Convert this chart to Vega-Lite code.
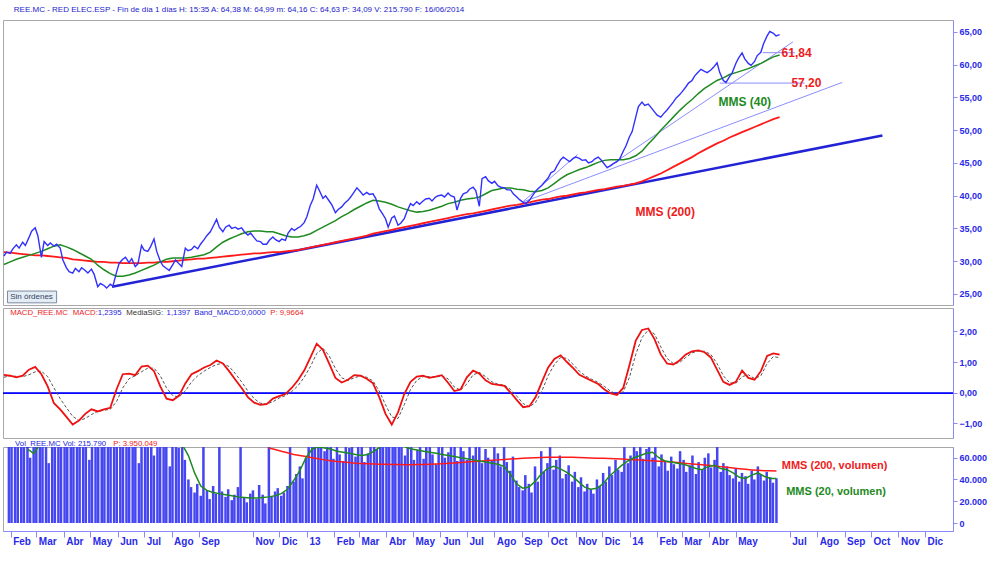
{
"$schema": "https://vega.github.io/schema/vega-lite/v6.json",
"background": "white",
"padding": {"left": -1, "top": 5, "right": 0, "bottom": 0},
"title": {"text": "REE.MC - RED ELEC.ESP - Fin de día 1 días  H: 15:35  A: 64,38  M: 64,99  m: 64,16  C: 64,63  P: 34,09  V: 215.790  F: 16/06/2014", "anchor": "start", "fontSize": 8, "font": "Liberation Sans", "fontWeight": "normal", "color": "#2222cc", "offset": 6, "dx": 14},
"spacing": 3,
"bounds": "flush",
"config": {
  "view": {"stroke": "#a8a8a8", "strokeWidth": 1},
  "axis": {"labelFont": "Liberation Sans", "labelFontWeight": "bold", "labelColor": "#2a2ae6", "domainColor": "#8a8aff", "tickColor": "#8a8aff", "grid": false},
  "text": {"font": "Liberation Sans"}
},
"datasets": {
"px": [
{"d":"2012-01-30","p":30.8,"v":90000},{"d":"2012-02-02","p":31.4,"v":72000},
{"d":"2012-02-06","p":31.2,"v":84000},{"d":"2012-02-09","p":31.9,"v":95000},
{"d":"2012-02-13","p":32.5,"v":70000},{"d":"2012-02-16","p":32.0,"v":88000},
{"d":"2012-02-20","p":32.9,"v":92000},{"d":"2012-02-23","p":32.4,"v":60000},
{"d":"2012-02-27","p":33.6,"v":85000},{"d":"2012-03-01","p":34.6,"v":78000},
{"d":"2012-03-05","p":35.1,"v":98000},{"d":"2012-03-08","p":33.9,"v":82000},
{"d":"2012-03-12","p":30.6,"v":76000},{"d":"2012-03-15","p":33.0,"v":55000},
{"d":"2012-03-19","p":32.4,"v":88000},{"d":"2012-03-22","p":32.8,"v":93000},
{"d":"2012-03-26","p":32.3,"v":80000},{"d":"2012-03-29","p":32.6,"v":71000},
{"d":"2012-04-02","p":32.0,"v":86000},{"d":"2012-04-05","p":30.2,"v":90000},
{"d":"2012-04-09","p":29.0,"v":95000},{"d":"2012-04-12","p":28.4,"v":77000},
{"d":"2012-04-16","p":28.2,"v":100000},{"d":"2012-04-19","p":28.9,"v":84000},
{"d":"2012-04-23","p":28.4,"v":79000},{"d":"2012-04-26","p":29.0,"v":92000},
{"d":"2012-04-30","p":28.6,"v":58000},{"d":"2012-05-03","p":28.2,"v":88000},
{"d":"2012-05-07","p":28.8,"v":91000},{"d":"2012-05-10","p":28.0,"v":83000},
{"d":"2012-05-14","p":26.1,"v":97000},{"d":"2012-05-17","p":26.6,"v":75000},
{"d":"2012-05-21","p":26.3,"v":88000},{"d":"2012-05-24","p":25.9,"v":94000},
{"d":"2012-05-28","p":26.5,"v":82000},{"d":"2012-05-31","p":26.2,"v":86000},
{"d":"2012-06-04","p":28.3,"v":90000},{"d":"2012-06-07","p":29.7,"v":71000},
{"d":"2012-06-11","p":30.3,"v":85000},{"d":"2012-06-14","p":30.6,"v":96000},
{"d":"2012-06-18","p":29.8,"v":78000},{"d":"2012-06-21","p":30.4,"v":88000},
{"d":"2012-06-25","p":29.2,"v":55000},{"d":"2012-06-28","p":29.6,"v":84000},
{"d":"2012-07-02","p":32.4,"v":92000},{"d":"2012-07-05","p":31.7,"v":87000},
{"d":"2012-07-09","p":31.5,"v":80000},{"d":"2012-07-12","p":32.2,"v":62000},
{"d":"2012-07-16","p":33.4,"v":89000},{"d":"2012-07-19","p":31.5,"v":83000},
{"d":"2012-07-23","p":30.0,"v":94000},{"d":"2012-07-26","p":29.3,"v":78000},
{"d":"2012-07-30","p":28.9,"v":52000},{"d":"2012-08-02","p":28.6,"v":86000},
{"d":"2012-08-06","p":29.5,"v":76000},{"d":"2012-08-09","p":30.2,"v":69000},
{"d":"2012-08-13","p":29.6,"v":82000},{"d":"2012-08-16","p":29.2,"v":58000},
{"d":"2012-08-20","p":32.0,"v":40000},{"d":"2012-08-23","p":31.6,"v":33000},
{"d":"2012-08-27","p":31.8,"v":28000},{"d":"2012-08-30","p":32.3,"v":36000},
{"d":"2012-09-03","p":31.9,"v":25000},{"d":"2012-09-06","p":32.6,"v":80000},
{"d":"2012-09-10","p":33.3,"v":30000},{"d":"2012-09-13","p":33.9,"v":22000},
{"d":"2012-09-17","p":34.5,"v":34000},{"d":"2012-09-20","p":35.3,"v":27000},
{"d":"2012-09-24","p":36.4,"v":72000},{"d":"2012-09-27","p":35.2,"v":29000},
{"d":"2012-10-01","p":34.5,"v":24000},{"d":"2012-10-04","p":35.2,"v":31000},
{"d":"2012-10-08","p":35.5,"v":21000},{"d":"2012-10-11","p":35.0,"v":26000},
{"d":"2012-10-15","p":35.2,"v":33000},{"d":"2012-10-18","p":34.9,"v":78000},
{"d":"2012-10-22","p":35.1,"v":23000},{"d":"2012-10-25","p":34.5,"v":19000},
{"d":"2012-10-29","p":34.0,"v":27000},{"d":"2012-11-01","p":34.3,"v":30000},
{"d":"2012-11-05","p":33.6,"v":22000},{"d":"2012-11-08","p":33.1,"v":35000},
{"d":"2012-11-12","p":33.0,"v":26000},{"d":"2012-11-15","p":32.6,"v":18000},
{"d":"2012-11-19","p":32.6,"v":76000},{"d":"2012-11-22","p":33.2,"v":24000},
{"d":"2012-11-26","p":33.7,"v":29000},{"d":"2012-11-29","p":33.3,"v":32000},
{"d":"2012-12-03","p":33.0,"v":25000},{"d":"2012-12-06","p":33.4,"v":28000},
{"d":"2012-12-10","p":33.2,"v":34000},{"d":"2012-12-13","p":34.3,"v":74000},
{"d":"2012-12-17","p":35.0,"v":38000},{"d":"2012-12-20","p":34.7,"v":45000},
{"d":"2012-12-24","p":35.1,"v":52000},{"d":"2012-12-27","p":35.3,"v":41000},
{"d":"2012-12-31","p":35.9,"v":60000},{"d":"2013-01-03","p":36.8,"v":85000},
{"d":"2013-01-07","p":38.6,"v":78000},{"d":"2013-01-10","p":39.5,"v":92000},
{"d":"2013-01-14","p":41.6,"v":95000},{"d":"2013-01-17","p":40.8,"v":70000},
{"d":"2013-01-21","p":39.6,"v":66000},{"d":"2013-01-24","p":40.0,"v":88000},
{"d":"2013-01-28","p":39.2,"v":74000},{"d":"2013-01-31","p":38.6,"v":59000},
{"d":"2013-02-04","p":37.4,"v":82000},{"d":"2013-02-07","p":37.9,"v":63000},
{"d":"2013-02-11","p":38.3,"v":57000},{"d":"2013-02-14","p":38.8,"v":76000},
{"d":"2013-02-18","p":39.3,"v":69000},{"d":"2013-02-21","p":39.8,"v":80000},
{"d":"2013-02-25","p":40.6,"v":61000},{"d":"2013-02-28","p":41.2,"v":72000},
{"d":"2013-03-04","p":40.6,"v":85000},{"d":"2013-03-07","p":40.1,"v":56000},
{"d":"2013-03-11","p":40.5,"v":64000},{"d":"2013-03-14","p":40.2,"v":78000},
{"d":"2013-03-18","p":40.3,"v":90000},{"d":"2013-03-21","p":39.6,"v":68000},
{"d":"2013-03-25","p":38.0,"v":75000},{"d":"2013-03-28","p":37.4,"v":86000},
{"d":"2013-04-01","p":36.5,"v":93000},{"d":"2013-04-04","p":35.2,"v":79000},
{"d":"2013-04-08","p":36.6,"v":88000},{"d":"2013-04-11","p":36.9,"v":97000},
{"d":"2013-04-15","p":35.5,"v":70000},{"d":"2013-04-18","p":35.8,"v":84000},
{"d":"2013-04-22","p":36.5,"v":62000},{"d":"2013-04-25","p":37.6,"v":77000},
{"d":"2013-04-29","p":38.8,"v":81000},{"d":"2013-05-02","p":38.5,"v":58000},
{"d":"2013-05-06","p":39.1,"v":67000},{"d":"2013-05-09","p":38.7,"v":73000},
{"d":"2013-05-13","p":39.2,"v":59000},{"d":"2013-05-16","p":39.5,"v":80000},
{"d":"2013-05-20","p":39.6,"v":76000},{"d":"2013-05-23","p":39.2,"v":63000},
{"d":"2013-05-27","p":39.8,"v":54000},{"d":"2013-05-30","p":40.0,"v":71000},
{"d":"2013-06-03","p":40.1,"v":86000},{"d":"2013-06-06","p":39.8,"v":60000},
{"d":"2013-06-10","p":40.4,"v":65000},{"d":"2013-06-13","p":40.0,"v":78000},
{"d":"2013-06-17","p":39.8,"v":92000},{"d":"2013-06-20","p":37.8,"v":57000},
{"d":"2013-06-24","p":39.6,"v":70000},{"d":"2013-06-27","p":40.3,"v":66000},
{"d":"2013-07-01","p":40.5,"v":58000},{"d":"2013-07-04","p":41.0,"v":79000},
{"d":"2013-07-08","p":41.3,"v":62000},{"d":"2013-07-11","p":40.8,"v":74000},
{"d":"2013-07-15","p":38.4,"v":83000},{"d":"2013-07-18","p":42.6,"v":55000},
{"d":"2013-07-22","p":42.9,"v":68000},{"d":"2013-07-25","p":42.3,"v":60000},
{"d":"2013-07-29","p":41.9,"v":57000},{"d":"2013-08-01","p":42.2,"v":72000},
{"d":"2013-08-05","p":41.5,"v":64000},{"d":"2013-08-08","p":41.3,"v":52000},
{"d":"2013-08-12","p":41.2,"v":78000},{"d":"2013-08-15","p":40.9,"v":56000},
{"d":"2013-08-19","p":40.9,"v":48000},{"d":"2013-08-22","p":40.3,"v":61000},
{"d":"2013-08-26","p":39.8,"v":39000},{"d":"2013-08-29","p":39.4,"v":33000},
{"d":"2013-09-02","p":39.0,"v":30000},{"d":"2013-09-05","p":38.8,"v":44000},
{"d":"2013-09-09","p":39.3,"v":36000},{"d":"2013-09-12","p":39.9,"v":28000},
{"d":"2013-09-16","p":40.7,"v":52000},{"d":"2013-09-19","p":41.1,"v":38000},
{"d":"2013-09-23","p":41.6,"v":66000},{"d":"2013-09-26","p":42.1,"v":47000},
{"d":"2013-09-30","p":42.7,"v":55000},{"d":"2013-10-03","p":43.5,"v":72000},
{"d":"2013-10-07","p":43.8,"v":49000},{"d":"2013-10-10","p":44.6,"v":58000},
{"d":"2013-10-14","p":45.5,"v":62000},{"d":"2013-10-17","p":45.9,"v":41000},
{"d":"2013-10-21","p":45.5,"v":45000},{"d":"2013-10-24","p":45.2,"v":53000},
{"d":"2013-10-28","p":45.7,"v":38000},{"d":"2013-10-31","p":45.9,"v":47000},
{"d":"2013-11-04","p":45.7,"v":33000},{"d":"2013-11-07","p":45.4,"v":42000},
{"d":"2013-11-11","p":45.5,"v":29000},{"d":"2013-11-14","p":45.0,"v":36000},
{"d":"2013-11-18","p":45.2,"v":31000},{"d":"2013-11-21","p":45.6,"v":27000},
{"d":"2013-11-25","p":45.9,"v":40000},{"d":"2013-11-28","p":45.5,"v":34000},
{"d":"2013-12-02","p":44.8,"v":46000},{"d":"2013-12-05","p":44.3,"v":38000},
{"d":"2013-12-09","p":44.6,"v":52000},{"d":"2013-12-12","p":44.9,"v":44000},
{"d":"2013-12-16","p":45.2,"v":58000},{"d":"2013-12-19","p":45.6,"v":49000},
{"d":"2013-12-23","p":46.8,"v":47000},{"d":"2013-12-26","p":47.6,"v":71000},
{"d":"2013-12-30","p":49.0,"v":55000},{"d":"2014-01-02","p":49.8,"v":62000},
{"d":"2014-01-06","p":52.0,"v":80000},{"d":"2014-01-09","p":53.6,"v":66000},
{"d":"2014-01-13","p":54.3,"v":74000},{"d":"2014-01-16","p":53.8,"v":59000},
{"d":"2014-01-20","p":54.0,"v":68000},{"d":"2014-01-23","p":53.5,"v":77000},
{"d":"2014-01-27","p":52.8,"v":60000},{"d":"2014-01-30","p":52.3,"v":72000},
{"d":"2014-02-03","p":52.0,"v":52000},{"d":"2014-02-06","p":52.5,"v":63000},
{"d":"2014-02-10","p":53.1,"v":57000},{"d":"2014-02-13","p":53.6,"v":48000},
{"d":"2014-02-17","p":54.3,"v":61000},{"d":"2014-02-20","p":54.9,"v":54000},
{"d":"2014-02-24","p":55.4,"v":50000},{"d":"2014-02-27","p":55.9,"v":66000},
{"d":"2014-03-03","p":56.6,"v":58000},{"d":"2014-03-06","p":57.2,"v":47000},
{"d":"2014-03-10","p":57.6,"v":53000},{"d":"2014-03-13","p":58.3,"v":62000},
{"d":"2014-03-17","p":58.9,"v":45000},{"d":"2014-03-20","p":59.3,"v":56000},
{"d":"2014-03-24","p":59.0,"v":49000},{"d":"2014-03-27","p":58.8,"v":60000},
{"d":"2014-03-31","p":59.2,"v":64000},{"d":"2014-04-03","p":59.6,"v":51000},
{"d":"2014-04-07","p":60.3,"v":58000},{"d":"2014-04-10","p":58.8,"v":70000},
{"d":"2014-04-14","p":57.6,"v":47000},{"d":"2014-04-17","p":57.3,"v":55000},
{"d":"2014-04-21","p":58.2,"v":52000},{"d":"2014-04-24","p":58.8,"v":44000},
{"d":"2014-04-28","p":60.2,"v":41000},{"d":"2014-05-01","p":61.0,"v":50000},
{"d":"2014-05-05","p":61.8,"v":38000},{"d":"2014-05-08","p":60.9,"v":46000},
{"d":"2014-05-12","p":60.2,"v":43000},{"d":"2014-05-15","p":59.9,"v":36000},
{"d":"2014-05-19","p":60.5,"v":48000},{"d":"2014-05-22","p":61.4,"v":40000},
{"d":"2014-05-26","p":61.9,"v":52000},{"d":"2014-05-29","p":63.2,"v":45000},
{"d":"2014-06-02","p":64.4,"v":39000},{"d":"2014-06-05","p":65.1,"v":47000},
{"d":"2014-06-09","p":64.8,"v":42000},{"d":"2014-06-12","p":64.4,"v":37000},
{"d":"2014-06-16","p":64.6,"v":41000}
],
"wk": [
{"d":"2012-01-30","m":0.58,"s":0.50,"g":29.5,"r":31.4},
{"d":"2012-02-06","m":0.55,"s":0.55,"g":29.9,"r":31.3},
{"d":"2012-02-13","m":0.50,"s":0.53,"g":30.3,"r":31.2},
{"d":"2012-02-20","m":0.55,"s":0.52,"g":30.6,"r":31.1,"vg":68000},
{"d":"2012-02-27","m":0.75,"s":0.58,"g":30.9,"r":31.0,"vg":64000},
{"d":"2012-03-05","m":0.84,"s":0.68,"g":31.2,"r":30.9,"vg":72000},
{"d":"2012-03-12","m":0.60,"s":0.70,"g":31.5,"r":30.9,"vg":80000},
{"d":"2012-03-19","m":0.20,"s":0.52,"g":31.9,"r":30.8,"vg":84000},
{"d":"2012-03-26","m":-0.35,"s":0.15,"g":32.3,"r":30.7,"vg":88000},
{"d":"2012-04-02","m":-0.55,"s":-0.20,"g":32.5,"r":30.6,"vg":86000},
{"d":"2012-04-09","m":-0.80,"s":-0.50,"g":32.2,"r":30.5,"vg":90000},
{"d":"2012-04-16","m":-1.05,"s":-0.78,"g":31.8,"r":30.3,"vg":92000},
{"d":"2012-04-23","m":-0.92,"s":-0.92,"g":31.3,"r":30.2,"vg":89000},
{"d":"2012-04-30","m":-0.70,"s":-0.85,"g":30.8,"r":30.1,"vg":86000},
{"d":"2012-05-07","m":-0.55,"s":-0.72,"g":30.3,"r":30.0,"vg":88000},
{"d":"2012-05-14","m":-0.62,"s":-0.62,"g":29.4,"r":29.9,"vg":90000},
{"d":"2012-05-21","m":-0.55,"s":-0.58,"g":28.7,"r":29.9,"vg":91000},
{"d":"2012-05-28","m":-0.50,"s":-0.55,"g":28.1,"r":29.8,"vg":89000},
{"d":"2012-06-04","m":0.10,"s":-0.30,"g":27.7,"r":29.8,"vg":87000},
{"d":"2012-06-11","m":0.60,"s":0.15,"g":27.7,"r":29.7,"vg":86000},
{"d":"2012-06-18","m":0.62,"s":0.45,"g":27.9,"r":29.7,"vg":85000},
{"d":"2012-06-25","m":0.57,"s":0.55,"g":28.2,"r":29.7,"vg":83000},
{"d":"2012-07-02","m":0.85,"s":0.68,"g":28.6,"r":29.7,"vg":85000},
{"d":"2012-07-09","m":0.88,"s":0.80,"g":29.0,"r":29.8,"vg":86000},
{"d":"2012-07-16","m":0.70,"s":0.80,"g":29.4,"r":29.8,"vg":84000},
{"d":"2012-07-23","m":0.20,"s":0.55,"g":29.9,"r":29.9,"vg":85000},
{"d":"2012-07-30","m":-0.20,"s":0.15,"g":30.3,"r":29.9,"vg":83000},
{"d":"2012-08-06","m":-0.25,"s":-0.10,"g":30.5,"r":30.0,"vg":80000},
{"d":"2012-08-13","m":-0.10,"s":-0.15,"g":30.5,"r":30.1,"vg":72000},
{"d":"2012-08-20","m":0.30,"s":0.05,"g":30.5,"r":30.2,"vg":62000},
{"d":"2012-08-27","m":0.60,"s":0.35,"g":30.6,"r":30.3,"vg":46000},
{"d":"2012-09-03","m":0.70,"s":0.55,"g":30.8,"r":30.4,"vg":34000},
{"d":"2012-09-10","m":0.82,"s":0.70,"g":31.0,"r":30.4,"vg":30000},
{"d":"2012-09-17","m":0.90,"s":0.82,"g":31.4,"r":30.5,"vg":28000},
{"d":"2012-09-24","m":1.05,"s":0.92,"g":32.2,"r":30.6,"vg":27000},
{"d":"2012-10-01","m":0.95,"s":0.95,"g":32.9,"r":30.7,"vg":26000},
{"d":"2012-10-08","m":0.70,"s":0.85,"g":33.4,"r":30.8,"vg":25000},
{"d":"2012-10-15","m":0.42,"s":0.62,"g":33.8,"r":30.9,"vg":24000},
{"d":"2012-10-22","m":0.15,"s":0.35,"g":34.2,"r":31.0,"vg":23500},
{"d":"2012-10-29","m":-0.15,"s":0.05,"g":34.5,"r":31.1,"vg":23000},
{"d":"2012-11-05","m":-0.33,"s":-0.20,"g":34.6,"r":31.2,"vg":23000},
{"d":"2012-11-12","m":-0.40,"s":-0.35,"g":34.6,"r":31.2,"vg":23500},
{"d":"2012-11-19","m":-0.38,"s":-0.38,"g":34.5,"r":31.3,"vg":24000,"vr":69000},
{"d":"2012-11-26","m":-0.20,"s":-0.30,"g":34.5,"r":31.4,"vg":25000,"vr":67500},
{"d":"2012-12-03","m":-0.12,"s":-0.18,"g":34.2,"r":31.4,"vg":27000,"vr":66000},
{"d":"2012-12-10","m":-0.05,"s":-0.10,"g":33.9,"r":31.5,"vg":31000,"vr":64500},
{"d":"2012-12-17","m":0.15,"s":0.03,"g":33.7,"r":31.6,"vg":39000,"vr":63000},
{"d":"2012-12-24","m":0.40,"s":0.22,"g":33.7,"r":31.7,"vg":48000,"vr":62000},
{"d":"2012-12-31","m":0.72,"s":0.50,"g":33.9,"r":31.9,"vg":60000,"vr":61000},
{"d":"2013-01-07","m":1.15,"s":0.85,"g":34.2,"r":32.1,"vg":68000,"vr":60000},
{"d":"2013-01-14","m":1.60,"s":1.28,"g":34.7,"r":32.3,"vg":70000,"vr":59000},
{"d":"2013-01-21","m":1.40,"s":1.45,"g":35.2,"r":32.5,"vg":69000,"vr":58000},
{"d":"2013-01-28","m":0.95,"s":1.20,"g":35.7,"r":32.7,"vg":68000,"vr":57200},
{"d":"2013-02-04","m":0.48,"s":0.78,"g":36.2,"r":32.9,"vg":66000,"vr":56500},
{"d":"2013-02-11","m":0.33,"s":0.48,"g":36.8,"r":33.1,"vg":65000,"vr":56000},
{"d":"2013-02-18","m":0.42,"s":0.40,"g":37.3,"r":33.3,"vg":64000,"vr":55500},
{"d":"2013-02-25","m":0.57,"s":0.48,"g":37.9,"r":33.5,"vg":63000,"vr":55000},
{"d":"2013-03-04","m":0.55,"s":0.55,"g":38.4,"r":33.7,"vg":62000,"vr":54700},
{"d":"2013-03-11","m":0.45,"s":0.50,"g":38.9,"r":33.9,"vg":63000,"vr":54400},
{"d":"2013-03-18","m":0.30,"s":0.38,"g":39.3,"r":34.2,"vg":66000,"vr":54200},
{"d":"2013-03-25","m":-0.15,"s":0.05,"g":39.2,"r":34.4,"vg":70000,"vr":54000},
{"d":"2013-04-01","m":-0.70,"s":-0.40,"g":39.0,"r":34.6,"vg":74000,"vr":54000},
{"d":"2013-04-08","m":-1.05,"s":-0.80,"g":38.7,"r":34.8,"vg":73000,"vr":53800},
{"d":"2013-04-15","m":-0.65,"s":-0.85,"g":38.3,"r":35.0,"vg":72000,"vr":53700},
{"d":"2013-04-22","m":-0.05,"s":-0.40,"g":38.0,"r":35.2,"vg":70000,"vr":53600},
{"d":"2013-04-29","m":0.35,"s":0.10,"g":37.7,"r":35.4,"vg":68000,"vr":53600},
{"d":"2013-05-06","m":0.52,"s":0.40,"g":37.5,"r":35.6,"vg":67000,"vr":53700},
{"d":"2013-05-13","m":0.55,"s":0.52,"g":37.6,"r":35.8,"vg":66000,"vr":53800},
{"d":"2013-05-20","m":0.48,"s":0.52,"g":37.8,"r":36.0,"vg":65000,"vr":54000},
{"d":"2013-05-27","m":0.52,"s":0.50,"g":38.1,"r":36.2,"vg":64000,"vr":54200},
{"d":"2013-06-03","m":0.57,"s":0.55,"g":38.4,"r":36.4,"vg":63000,"vr":54500},
{"d":"2013-06-10","m":0.32,"s":0.45,"g":38.8,"r":36.6,"vg":62000,"vr":54800},
{"d":"2013-06-17","m":0.05,"s":0.18,"g":39.0,"r":36.8,"vg":61000,"vr":55200},
{"d":"2013-06-24","m":0.10,"s":0.08,"g":39.3,"r":37.0,"vg":60000,"vr":55600},
{"d":"2013-07-01","m":0.50,"s":0.28,"g":39.5,"r":37.2,"vg":59000,"vr":56000},
{"d":"2013-07-08","m":0.72,"s":0.58,"g":39.6,"r":37.3,"vg":58000,"vr":56400},
{"d":"2013-07-15","m":0.62,"s":0.66,"g":39.8,"r":37.5,"vg":57000,"vr":56800},
{"d":"2013-07-22","m":0.40,"s":0.52,"g":40.3,"r":37.7,"vg":56000,"vr":57200},
{"d":"2013-07-29","m":0.28,"s":0.35,"g":40.8,"r":37.9,"vg":55000,"vr":57600},
{"d":"2013-08-05","m":0.25,"s":0.27,"g":41.0,"r":38.1,"vg":54000,"vr":58000},
{"d":"2013-08-12","m":0.22,"s":0.24,"g":41.2,"r":38.3,"vg":52000,"vr":58400},
{"d":"2013-08-19","m":0.00,"s":0.10,"g":41.2,"r":38.5,"vg":45000,"vr":58800},
{"d":"2013-08-26","m":-0.25,"s":-0.12,"g":41.0,"r":38.6,"vg":36000,"vr":59100},
{"d":"2013-09-02","m":-0.48,"s":-0.36,"g":40.9,"r":38.8,"vg":32000,"vr":59400},
{"d":"2013-09-09","m":-0.45,"s":-0.47,"g":40.7,"r":39.0,"vg":33000,"vr":59700},
{"d":"2013-09-16","m":-0.15,"s":-0.32,"g":40.6,"r":39.2,"vg":38000,"vr":60000},
{"d":"2013-09-23","m":0.35,"s":0.05,"g":40.8,"r":39.4,"vg":45000,"vr":60200},
{"d":"2013-09-30","m":0.82,"s":0.55,"g":41.2,"r":39.5,"vg":50000,"vr":60400},
{"d":"2013-10-07","m":1.10,"s":0.92,"g":41.9,"r":39.7,"vg":52000,"vr":60500},
{"d":"2013-10-14","m":1.22,"s":1.15,"g":42.6,"r":39.9,"vg":50000,"vr":60500},
{"d":"2013-10-21","m":1.00,"s":1.12,"g":43.2,"r":40.0,"vg":47000,"vr":60400},
{"d":"2013-10-28","m":0.80,"s":0.92,"g":43.6,"r":40.2,"vg":43000,"vr":60300},
{"d":"2013-11-04","m":0.58,"s":0.70,"g":44.0,"r":40.4,"vg":38000,"vr":60100},
{"d":"2013-11-11","m":0.48,"s":0.54,"g":44.3,"r":40.5,"vg":33000,"vr":60000},
{"d":"2013-11-18","m":0.38,"s":0.43,"g":44.7,"r":40.7,"vg":31000,"vr":59800},
{"d":"2013-11-25","m":0.28,"s":0.33,"g":45.1,"r":40.9,"vg":32000,"vr":59600},
{"d":"2013-12-02","m":0.10,"s":0.20,"g":45.4,"r":41.0,"vg":36000,"vr":59400},
{"d":"2013-12-09","m":-0.03,"s":0.04,"g":45.5,"r":41.2,"vg":43000,"vr":59200},
{"d":"2013-12-16","m":-0.08,"s":-0.05,"g":45.5,"r":41.4,"vg":48000,"vr":59000},
{"d":"2013-12-23","m":0.15,"s":0.02,"g":45.5,"r":41.5,"vg":53000,"vr":58700},
{"d":"2013-12-30","m":0.90,"s":0.50,"g":45.7,"r":41.7,"vg":57000,"vr":58400},
{"d":"2014-01-06","m":1.70,"s":1.25,"g":46.1,"r":41.9,"vg":60000,"vr":58100},
{"d":"2014-01-13","m":2.05,"s":1.80,"g":46.8,"r":42.2,"vg":62000,"vr":57800},
{"d":"2014-01-20","m":2.10,"s":2.05,"g":47.9,"r":42.6,"vg":64000,"vr":57500},
{"d":"2014-01-27","m":1.75,"s":1.92,"g":48.9,"r":43.0,"vg":65000,"vr":57200},
{"d":"2014-02-03","m":1.25,"s":1.50,"g":50.0,"r":43.4,"vg":60000,"vr":56800},
{"d":"2014-02-10","m":0.95,"s":1.12,"g":51.0,"r":43.9,"vg":57000,"vr":56400},
{"d":"2014-02-17","m":0.92,"s":0.95,"g":52.0,"r":44.4,"vg":56000,"vr":56000},
{"d":"2014-02-24","m":1.05,"s":0.98,"g":53.0,"r":44.9,"vg":55000,"vr":55500},
{"d":"2014-03-03","m":1.25,"s":1.15,"g":53.9,"r":45.4,"vg":54000,"vr":55000},
{"d":"2014-03-10","m":1.35,"s":1.30,"g":54.7,"r":45.9,"vg":52000,"vr":54500},
{"d":"2014-03-17","m":1.38,"s":1.36,"g":55.6,"r":46.5,"vg":50000,"vr":54000},
{"d":"2014-03-24","m":1.32,"s":1.35,"g":56.4,"r":47.0,"vg":49000,"vr":53500},
{"d":"2014-03-31","m":1.15,"s":1.25,"g":57.0,"r":47.5,"vg":52000,"vr":53000},
{"d":"2014-04-07","m":0.75,"s":0.95,"g":57.6,"r":48.0,"vg":53000,"vr":52400},
{"d":"2014-04-14","m":0.35,"s":0.55,"g":58.0,"r":48.4,"vg":50000,"vr":51800},
{"d":"2014-04-21","m":0.25,"s":0.32,"g":58.5,"r":48.9,"vg":49000,"vr":51200},
{"d":"2014-04-28","m":0.35,"s":0.30,"g":58.8,"r":49.3,"vg":46000,"vr":50500},
{"d":"2014-05-05","m":0.72,"s":0.52,"g":59.1,"r":49.7,"vg":42000,"vr":49900},
{"d":"2014-05-12","m":0.48,"s":0.58,"g":59.4,"r":50.1,"vg":41000,"vr":49300},
{"d":"2014-05-19","m":0.42,"s":0.46,"g":59.8,"r":50.5,"vg":44000,"vr":48800},
{"d":"2014-05-26","m":0.70,"s":0.55,"g":60.2,"r":50.9,"vg":46000,"vr":48400},
{"d":"2014-06-02","m":1.20,"s":0.95,"g":60.7,"r":51.3,"vg":43000,"vr":48100},
{"d":"2014-06-09","m":1.28,"s":1.18,"g":61.2,"r":51.7,"vg":41000,"vr":47900},
{"d":"2014-06-16","m":1.24,"s":1.14,"g":61.5,"r":52.0,"vg":41000,"vr":47800}
],
"tm": [{"d":"2012-05-30","d2":"2014-10-09","p":26.1,"p2":49.2}],
"tl": [
{"d":"2013-09-01","d2":"2014-08-25","p":39.0,"p2":57.3},
{"d":"2013-09-01","d2":"2013-11-02","p":39.0,"p2":46.3},
{"d":"2013-12-04","d2":"2014-07-01","p":44.2,"p2":63.5}
],
"hl": [
{"d":"2014-05-28","d2":"2014-07-03","p":61.84},
{"d":"2014-04-10","d2":"2014-07-14","p":57.2}
],
"lab": [
{"d":"2014-07-05","p":61.84,"t":"61,84","c":"r","a":"left"},
{"d":"2014-07-16","p":57.2,"t":"57,20","c":"r","a":"left"},
{"d":"2014-05-08","p":54.3,"t":"MMS (40)","c":"g","a":"center"},
{"d":"2014-02-08","p":37.5,"t":"MMS (200)","c":"r","a":"center"}
],
"hdr": [
{"d":"2012-02-06","m":2.61,"t":"MACD_REE.MC","c":"r"},
{"d":"2012-04-16","m":2.61,"t":"MACD:","c":"r"},
{"d":"2012-05-14","m":2.61,"t":"1,2395","c":"b"},
{"d":"2012-06-15","m":2.61,"t":"MediaSIG:","c":"k"},
{"d":"2012-07-30","m":2.61,"t":"1,1397","c":"b"},
{"d":"2012-08-30","m":2.61,"t":"Band_MACD:","c":"b"},
{"d":"2012-10-22","m":2.61,"t":"0,0000","c":"b"},
{"d":"2012-11-23","m":2.61,"t":"P: 9,9664","c":"r"}
],
"vhdr": [
{"d":"2012-02-06","v":72600,"t":"Vol_REE.MC  Vol: 215.790","c":"b"},
{"d":"2012-05-27","v":72600,"t":"P: 3.950.049","c":"r"}
],
"vlab": [
{"d":"2014-06-22","v":52400,"t":"MMS (200, volumen)","c":"r"},
{"d":"2014-06-27","v":28500,"t":"MMS (20, volumen)","c":"g"}
],
"misc": [{"d":"2012-02-06","d1":"2012-02-03","d2":"2012-03-29","p":24.55,"p1":25.45,"p2":23.65,"t":"Sin órdenes"}]
},
"vconcat": [
{
 "width": 950, "height": 285,
 "encoding": {
  "x": {"field": "d", "type": "temporal", "title": null, "axis": null, "scale": {"type": "utc", "nice": false, "domain": [{"year": 2012, "month": 1, "date": 29, "utc": true}, {"year": 2014, "month": 12, "date": 27, "utc": true}]}}
 },
 "layer": [
  {"data": {"name": "tl"}, "mark": {"type": "rule", "color": "#8c8cff", "strokeWidth": 1},
   "encoding": {
    "x2": {"field": "d2"},
    "y": {"field": "p", "type": "quantitative", "title": null, "scale": {"domain": [23.32, 66.83], "nice": false, "zero": false},
          "axis": {"orient": "right", "values": [25, 30, 35, 40, 45, 50, 55, 60, 65], "labelExpr": "replace(format(datum.value,'.2f'),'.',',')", "tickSize": 4, "labelPadding": 2, "labelFontSize": 9, "labelAlign": "left", "labelBaseline": "middle", "title": null}},
    "y2": {"field": "p2"}
   }},
  {"data": {"name": "hl"}, "mark": {"type": "rule", "color": "#8c8cff", "strokeWidth": 1},
   "encoding": {
    "x2": {"field": "d2"},
    "y": {"field": "p", "type": "quantitative", "title": null, "scale": {"domain": [23.32, 66.83], "nice": false, "zero": false},
          "axis": {"orient": "right", "values": [25, 30, 35, 40, 45, 50, 55, 60, 65], "labelExpr": "replace(format(datum.value,'.2f'),'.',',')", "tickSize": 4, "labelPadding": 2, "labelFontSize": 9, "labelAlign": "left", "labelBaseline": "middle", "title": null}}
   }},
  {"data": {"name": "tm"}, "mark": {"type": "rule", "color": "#2323d6", "strokeWidth": 2.5},
   "encoding": {
    "x2": {"field": "d2"},
    "y": {"field": "p", "type": "quantitative", "title": null, "scale": {"domain": [23.32, 66.83], "nice": false, "zero": false},
          "axis": {"orient": "right", "values": [25, 30, 35, 40, 45, 50, 55, 60, 65], "labelExpr": "replace(format(datum.value,'.2f'),'.',',')", "tickSize": 4, "labelPadding": 2, "labelFontSize": 9, "labelAlign": "left", "labelBaseline": "middle", "title": null}},
    "y2": {"field": "p2"}
   }},
  {"data": {"name": "wk"}, "mark": {"type": "line", "color": "#ff1a1a", "strokeWidth": 1.8},
   "encoding": {
    "y": {"field": "r", "type": "quantitative", "title": null, "scale": {"domain": [23.32, 66.83], "nice": false, "zero": false},
          "axis": {"orient": "right", "values": [25, 30, 35, 40, 45, 50, 55, 60, 65], "labelExpr": "replace(format(datum.value,'.2f'),'.',',')", "tickSize": 4, "labelPadding": 2, "labelFontSize": 9, "labelAlign": "left", "labelBaseline": "middle", "title": null}}
   }},
  {"data": {"name": "wk"}, "mark": {"type": "line", "color": "#1f8a1f", "strokeWidth": 1.5},
   "encoding": {
    "y": {"field": "g", "type": "quantitative", "title": null, "scale": {"domain": [23.32, 66.83], "nice": false, "zero": false},
          "axis": {"orient": "right", "values": [25, 30, 35, 40, 45, 50, 55, 60, 65], "labelExpr": "replace(format(datum.value,'.2f'),'.',',')", "tickSize": 4, "labelPadding": 2, "labelFontSize": 9, "labelAlign": "left", "labelBaseline": "middle", "title": null}}
   }},
  {"data": {"name": "px"}, "mark": {"type": "line", "color": "#3030ff", "strokeWidth": 1.4},
   "encoding": {
    "y": {"field": "p", "type": "quantitative", "title": null, "scale": {"domain": [23.32, 66.83], "nice": false, "zero": false},
          "axis": {"orient": "right", "values": [25, 30, 35, 40, 45, 50, 55, 60, 65], "labelExpr": "replace(format(datum.value,'.2f'),'.',',')", "tickSize": 4, "labelPadding": 2, "labelFontSize": 9, "labelAlign": "left", "labelBaseline": "middle", "title": null}}
   }},
  {"data": {"name": "lab"}, "mark": {"type": "text", "fontSize": 12, "fontWeight": "bold", "baseline": "middle"},
   "encoding": {
    "y": {"field": "p", "type": "quantitative", "title": null, "scale": {"domain": [23.32, 66.83], "nice": false, "zero": false},
          "axis": {"orient": "right", "values": [25, 30, 35, 40, 45, 50, 55, 60, 65], "labelExpr": "replace(format(datum.value,'.2f'),'.',',')", "tickSize": 4, "labelPadding": 2, "labelFontSize": 9, "labelAlign": "left", "labelBaseline": "middle", "title": null}},
    "text": {"field": "t"},
    "align": {"field": "a", "type": "nominal", "scale": null},
    "color": {"field": "c", "type": "nominal", "legend": null, "scale": {"domain": ["r", "g", "b", "k"], "range": ["#ee1c1c", "#1e8a1e", "#2626dd", "#333333"]}}
   }},
  {"data": {"name": "misc"}, "mark": {"type": "rect", "fill": "#e4ecf4", "stroke": "#7a8aa0", "strokeWidth": 1},
   "encoding": {
    "x": {"field": "d1", "type": "temporal", "title": null, "axis": null, "scale": {"type": "utc", "nice": false, "domain": [{"year": 2012, "month": 1, "date": 29, "utc": true}, {"year": 2014, "month": 12, "date": 27, "utc": true}]}},
    "x2": {"field": "d2"},
    "y": {"field": "p1", "type": "quantitative", "title": null, "scale": {"domain": [23.32, 66.83], "nice": false, "zero": false},
          "axis": {"orient": "right", "values": [25, 30, 35, 40, 45, 50, 55, 60, 65], "labelExpr": "replace(format(datum.value,'.2f'),'.',',')", "tickSize": 4, "labelPadding": 2, "labelFontSize": 9, "labelAlign": "left", "labelBaseline": "middle", "title": null}},
    "y2": {"field": "p2"}
   }},
  {"data": {"name": "misc"}, "mark": {"type": "text", "fontSize": 8, "align": "left", "baseline": "middle", "color": "#334466"},
   "encoding": {
    "y": {"field": "p", "type": "quantitative", "title": null, "scale": {"domain": [23.32, 66.83], "nice": false, "zero": false},
          "axis": {"orient": "right", "values": [25, 30, 35, 40, 45, 50, 55, 60, 65], "labelExpr": "replace(format(datum.value,'.2f'),'.',',')", "tickSize": 4, "labelPadding": 2, "labelFontSize": 9, "labelAlign": "left", "labelBaseline": "middle", "title": null}},
    "text": {"field": "t"}
   }}
 ]
},
{
 "spacing": 9,
 "bounds": "flush",
 "vconcat": [
 {
  "width": 950, "height": 130,
  "layer": [
   {"data": {"name": "wk"}, "mark": {"type": "rule", "color": "#3838ff", "strokeWidth": 0.9},
    "encoding": {
     "y": {"datum": 0, "type": "quantitative", "title": null, "scale": {"domain": [-1.49, 2.77], "nice": false, "zero": false},
           "axis": {"orient": "right", "values": [-1, 0, 1, 2], "labelExpr": "replace(format(datum.value,'.2f'),'.',',')", "tickSize": 4, "labelPadding": 2, "labelFontSize": 9, "labelAlign": "left", "labelBaseline": "middle", "title": null}}
    }},
   {"data": {"name": "wk"}, "mark": {"type": "line", "color": "#555555", "strokeWidth": 1, "strokeDash": [3, 2]},
    "encoding": {
     "x": {"field": "d", "type": "temporal", "title": null, "axis": null, "scale": {"type": "utc", "nice": false, "domain": [{"year": 2012, "month": 1, "date": 29, "utc": true}, {"year": 2014, "month": 12, "date": 27, "utc": true}]}},
     "y": {"field": "s", "type": "quantitative", "title": null, "scale": {"domain": [-1.49, 2.77], "nice": false, "zero": false},
           "axis": {"orient": "right", "values": [-1, 0, 1, 2], "labelExpr": "replace(format(datum.value,'.2f'),'.',',')", "tickSize": 4, "labelPadding": 2, "labelFontSize": 9, "labelAlign": "left", "labelBaseline": "middle", "title": null}}
    }},
   {"data": {"name": "wk"}, "mark": {"type": "line", "color": "#ee1111", "strokeWidth": 1.8},
    "encoding": {
     "x": {"field": "d", "type": "temporal", "title": null, "axis": null, "scale": {"type": "utc", "nice": false, "domain": [{"year": 2012, "month": 1, "date": 29, "utc": true}, {"year": 2014, "month": 12, "date": 27, "utc": true}]}},
     "y": {"field": "m", "type": "quantitative", "title": null, "scale": {"domain": [-1.49, 2.77], "nice": false, "zero": false},
           "axis": {"orient": "right", "values": [-1, 0, 1, 2], "labelExpr": "replace(format(datum.value,'.2f'),'.',',')", "tickSize": 4, "labelPadding": 2, "labelFontSize": 9, "labelAlign": "left", "labelBaseline": "middle", "title": null}}
    }},
   {"data": {"name": "hdr"}, "mark": {"type": "text", "fontSize": 7.8, "align": "left", "baseline": "middle"},
    "encoding": {
     "x": {"field": "d", "type": "temporal", "title": null, "axis": null, "scale": {"type": "utc", "nice": false, "domain": [{"year": 2012, "month": 1, "date": 29, "utc": true}, {"year": 2014, "month": 12, "date": 27, "utc": true}]}},
     "y": {"field": "m", "type": "quantitative", "title": null, "scale": {"domain": [-1.49, 2.77], "nice": false, "zero": false},
           "axis": {"orient": "right", "values": [-1, 0, 1, 2], "labelExpr": "replace(format(datum.value,'.2f'),'.',',')", "tickSize": 4, "labelPadding": 2, "labelFontSize": 9, "labelAlign": "left", "labelBaseline": "middle", "title": null}},
     "text": {"field": "t"},
     "color": {"field": "c", "type": "nominal", "legend": null, "scale": {"domain": ["r", "g", "b", "k"], "range": ["#ee1c1c", "#1e8a1e", "#2626dd", "#333333"]}}
    }}
  ]
 },
 {
  "width": 950, "height": 84,
  "encoding": {
   "x": {"field": "d", "type": "temporal", "title": null, "scale": {"type": "utc", "nice": false, "domain": [{"year": 2012, "month": 1, "date": 29, "utc": true}, {"year": 2014, "month": 12, "date": 27, "utc": true}]},
         "axis": {"values": [
           {"year": 2012, "month": 2, "date": 1, "utc": true}, {"year": 2012, "month": 3, "date": 1, "utc": true}, {"year": 2012, "month": 4, "date": 1, "utc": true}, {"year": 2012, "month": 5, "date": 1, "utc": true}, {"year": 2012, "month": 6, "date": 1, "utc": true}, {"year": 2012, "month": 7, "date": 1, "utc": true}, {"year": 2012, "month": 8, "date": 1, "utc": true}, {"year": 2012, "month": 9, "date": 1, "utc": true}, {"year": 2012, "month": 11, "date": 1, "utc": true}, {"year": 2012, "month": 12, "date": 1, "utc": true},
           {"year": 2013, "month": 1, "date": 1, "utc": true}, {"year": 2013, "month": 2, "date": 1, "utc": true}, {"year": 2013, "month": 3, "date": 1, "utc": true}, {"year": 2013, "month": 4, "date": 1, "utc": true}, {"year": 2013, "month": 5, "date": 1, "utc": true}, {"year": 2013, "month": 6, "date": 1, "utc": true}, {"year": 2013, "month": 7, "date": 1, "utc": true}, {"year": 2013, "month": 8, "date": 1, "utc": true}, {"year": 2013, "month": 9, "date": 1, "utc": true}, {"year": 2013, "month": 10, "date": 1, "utc": true}, {"year": 2013, "month": 11, "date": 1, "utc": true}, {"year": 2013, "month": 12, "date": 1, "utc": true},
           {"year": 2014, "month": 1, "date": 1, "utc": true}, {"year": 2014, "month": 2, "date": 1, "utc": true}, {"year": 2014, "month": 3, "date": 1, "utc": true}, {"year": 2014, "month": 4, "date": 1, "utc": true}, {"year": 2014, "month": 5, "date": 1, "utc": true}, {"year": 2014, "month": 7, "date": 1, "utc": true}, {"year": 2014, "month": 8, "date": 1, "utc": true}, {"year": 2014, "month": 9, "date": 1, "utc": true}, {"year": 2014, "month": 10, "date": 1, "utc": true}, {"year": 2014, "month": 11, "date": 1, "utc": true}, {"year": 2014, "month": 12, "date": 1, "utc": true}],
           "labelExpr": "utcmonth(datum.value) == 0 ? utcFormat(datum.value, '%y') : ['Ene','Feb','Mar','Abr','May','Jun','Jul','Ago','Sep','Oct','Nov','Dic'][utcmonth(datum.value)]",
           "labelAlign": "left", "labelBaseline": "middle", "labelOffset": 2, "tickSize": 6, "labelPadding": 4, "labelFontSize": 10, "labelOverlap": false, "labelFlush": false, "labelBound": false, "title": null}}
  },
  "layer": [
   {"data": {"name": "px"}, "mark": {"type": "bar", "color": "#4545f2", "width": 2.5, "clip": true},
    "encoding": {
     "y": {"field": "v", "type": "quantitative", "title": null, "scale": {"domain": [-7350, 69830], "nice": false, "zero": false},
           "axis": {"orient": "right", "values": [0, 20000, 40000, 60000], "labelExpr": "replace(format(datum.value,',d'),',','.')", "tickSize": 4, "labelPadding": 2, "labelFontSize": 9, "labelAlign": "left", "labelBaseline": "middle", "title": null}},
     "y2": {"datum": 0}
    }},
   {"data": {"name": "wk"}, "mark": {"type": "line", "color": "#ff1a1a", "strokeWidth": 1.5, "clip": true},
    "encoding": {
     "y": {"field": "vr", "type": "quantitative", "title": null, "scale": {"domain": [-7350, 69830], "nice": false, "zero": false},
           "axis": {"orient": "right", "values": [0, 20000, 40000, 60000], "labelExpr": "replace(format(datum.value,',d'),',','.')", "tickSize": 4, "labelPadding": 2, "labelFontSize": 9, "labelAlign": "left", "labelBaseline": "middle", "title": null}}
    }},
   {"data": {"name": "wk"}, "mark": {"type": "line", "color": "#1f8a1f", "strokeWidth": 1.5, "clip": true},
    "encoding": {
     "y": {"field": "vg", "type": "quantitative", "title": null, "scale": {"domain": [-7350, 69830], "nice": false, "zero": false},
           "axis": {"orient": "right", "values": [0, 20000, 40000, 60000], "labelExpr": "replace(format(datum.value,',d'),',','.')", "tickSize": 4, "labelPadding": 2, "labelFontSize": 9, "labelAlign": "left", "labelBaseline": "middle", "title": null}}
    }},
   {"data": {"name": "vhdr"}, "mark": {"type": "text", "fontSize": 7.8, "align": "left", "baseline": "middle"},
    "encoding": {
     "y": {"field": "v", "type": "quantitative", "title": null, "scale": {"domain": [-7350, 69830], "nice": false, "zero": false},
           "axis": {"orient": "right", "values": [0, 20000, 40000, 60000], "labelExpr": "replace(format(datum.value,',d'),',','.')", "tickSize": 4, "labelPadding": 2, "labelFontSize": 9, "labelAlign": "left", "labelBaseline": "middle", "title": null}},
     "text": {"field": "t"},
     "color": {"field": "c", "type": "nominal", "legend": null, "scale": {"domain": ["r", "g", "b", "k"], "range": ["#ee1c1c", "#1e8a1e", "#2626dd", "#333333"]}}
    }},
   {"data": {"name": "vlab"}, "mark": {"type": "text", "fontSize": 11, "fontWeight": "bold", "align": "left", "baseline": "middle"},
    "encoding": {
     "y": {"field": "v", "type": "quantitative", "title": null, "scale": {"domain": [-7350, 69830], "nice": false, "zero": false},
           "axis": {"orient": "right", "values": [0, 20000, 40000, 60000], "labelExpr": "replace(format(datum.value,',d'),',','.')", "tickSize": 4, "labelPadding": 2, "labelFontSize": 9, "labelAlign": "left", "labelBaseline": "middle", "title": null}},
     "text": {"field": "t"},
     "color": {"field": "c", "type": "nominal", "legend": null, "scale": {"domain": ["r", "g", "b", "k"], "range": ["#ee1c1c", "#1e8a1e", "#2626dd", "#333333"]}}
    }}
  ]
 }
 ]
}
]
}
